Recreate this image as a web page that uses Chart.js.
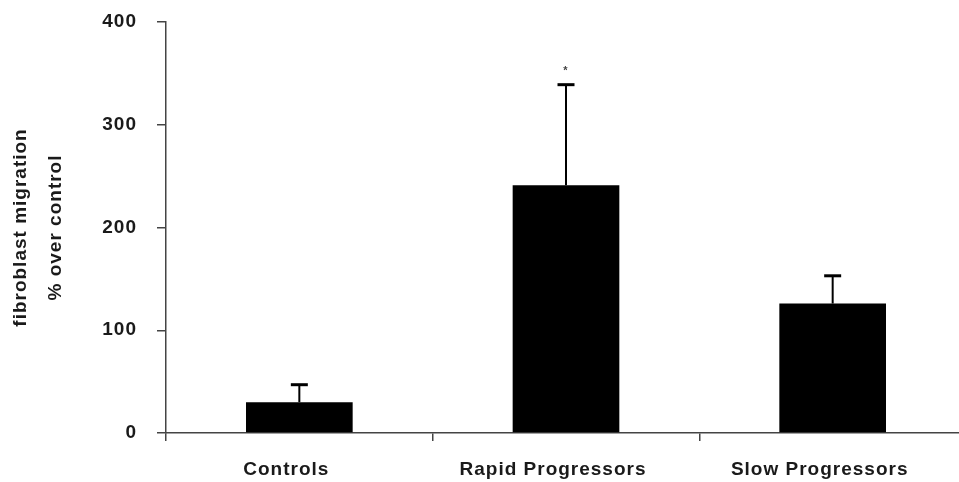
<!DOCTYPE html>
<html>
<head>
<meta charset="utf-8">
<script src="https://cdn.jsdelivr.net/npm/chart.js@4"></script>
<style>
  html, body { margin: 0; padding: 0; background: #fff; overflow: hidden; }
  canvas { display: block; }
</style>
</head>
<body>
<canvas id="chart" width="966" height="482"></canvas>
<script>
// ─── Datos ────────────────────────────────────────────────────
const categories = ["Controls", "Rapid Progressors", "Slow Progressors"];
const means      = [30, 241, 126];
const errUpper   = [17, 98, 27];
const marks      = ["", "*", ""];
const yMin = 0, yMax = 400, yStep = 100;
const yTitle = ["fibroblast migration", "% over control"];

const axisColor = "#444";
const textColor = "#1a1a1a";
const fontFam   = "'Liberation Sans', Arial, sans-serif";

// ─── Plugins ──────────────────────────────────────────────────
const spacing = {
  id: "spacing",
  beforeUpdate(chart) { chart.ctx.letterSpacing = "1px"; },
  beforeDraw(chart)   { chart.ctx.letterSpacing = "1px"; }
};

const errorBars = {
  id: "errorBars",
  afterDatasetsDraw(chart) {
    const ctx = chart.ctx;
    const y = chart.scales.y;
    const bars = chart.getDatasetMeta(0).data;
    ctx.save();
    ctx.strokeStyle = "#000";
    bars.forEach((bar, i) => {
      const top = y.getPixelForValue(means[i] + errUpper[i]);
      ctx.lineWidth = 2;
      ctx.beginPath();
      ctx.moveTo(bar.x, bar.y);
      ctx.lineTo(bar.x, top);
      ctx.stroke();
      ctx.lineWidth = 3;
      ctx.beginPath();
      ctx.moveTo(bar.x - 8.5, top);
      ctx.lineTo(bar.x + 8.5, top);
      ctx.stroke();
      if (marks[i]) {
        ctx.fillStyle = "#444";
        ctx.font = "bold 11px " + fontFam;
        ctx.textAlign = "center";
        ctx.textBaseline = "middle";
        ctx.fillText(marks[i], bar.x, top - 14);
      }
    });
    ctx.restore();
  }
};

// ─── Gráfico ──────────────────────────────────────────────────
new Chart(document.getElementById("chart"), {
  type: "bar",
  data: {
    labels: categories,
    datasets: [{
      data: means,
      backgroundColor: "#000",
      borderWidth: 0,
      categoryPercentage: 1,
      barPercentage: 0.4
    }]
  },
  options: {
    responsive: false,
    animation: false,
    layout: { padding: { top: 22, left: 0, right: 0, bottom: 0 } },
    plugins: { legend: { display: false }, tooltip: { enabled: false } },
    scales: {
      x: {
        grid: { drawOnChartArea: false, tickLength: 8, color: axisColor, lineWidth: 1.5, offset: true },
        border: { color: axisColor, width: 1.5 },
        ticks: {
          color: textColor, padding: 17, labelOffset: -13,
          font: { family: fontFam, size: 19, weight: "bold" }
        },
        afterFit(s) { s.height = 49; s.paddingLeft = 0; s.paddingRight = 0; }
      },
      y: {
        min: yMin, max: yMax,
        grid: { drawOnChartArea: false, tickLength: 9, color: axisColor, lineWidth: 1.5 },
        border: { color: axisColor, width: 1.5 },
        ticks: {
          stepSize: yStep, color: textColor, padding: 20,
          font: { family: fontFam, size: 19, weight: "bold" }
        },
        title: {
          display: true, text: yTitle, color: textColor,
          padding: { top: 4, bottom: 0 },
          font: { family: fontFam, size: 19, weight: "bold", lineHeight: 1.8 }
        },
        afterFit(s) { s.width = 166; s.paddingTop = 0; s.paddingBottom = 0; }
      }
    }
  },
  plugins: [spacing, errorBars]
});
</script>
</body>
</html>
